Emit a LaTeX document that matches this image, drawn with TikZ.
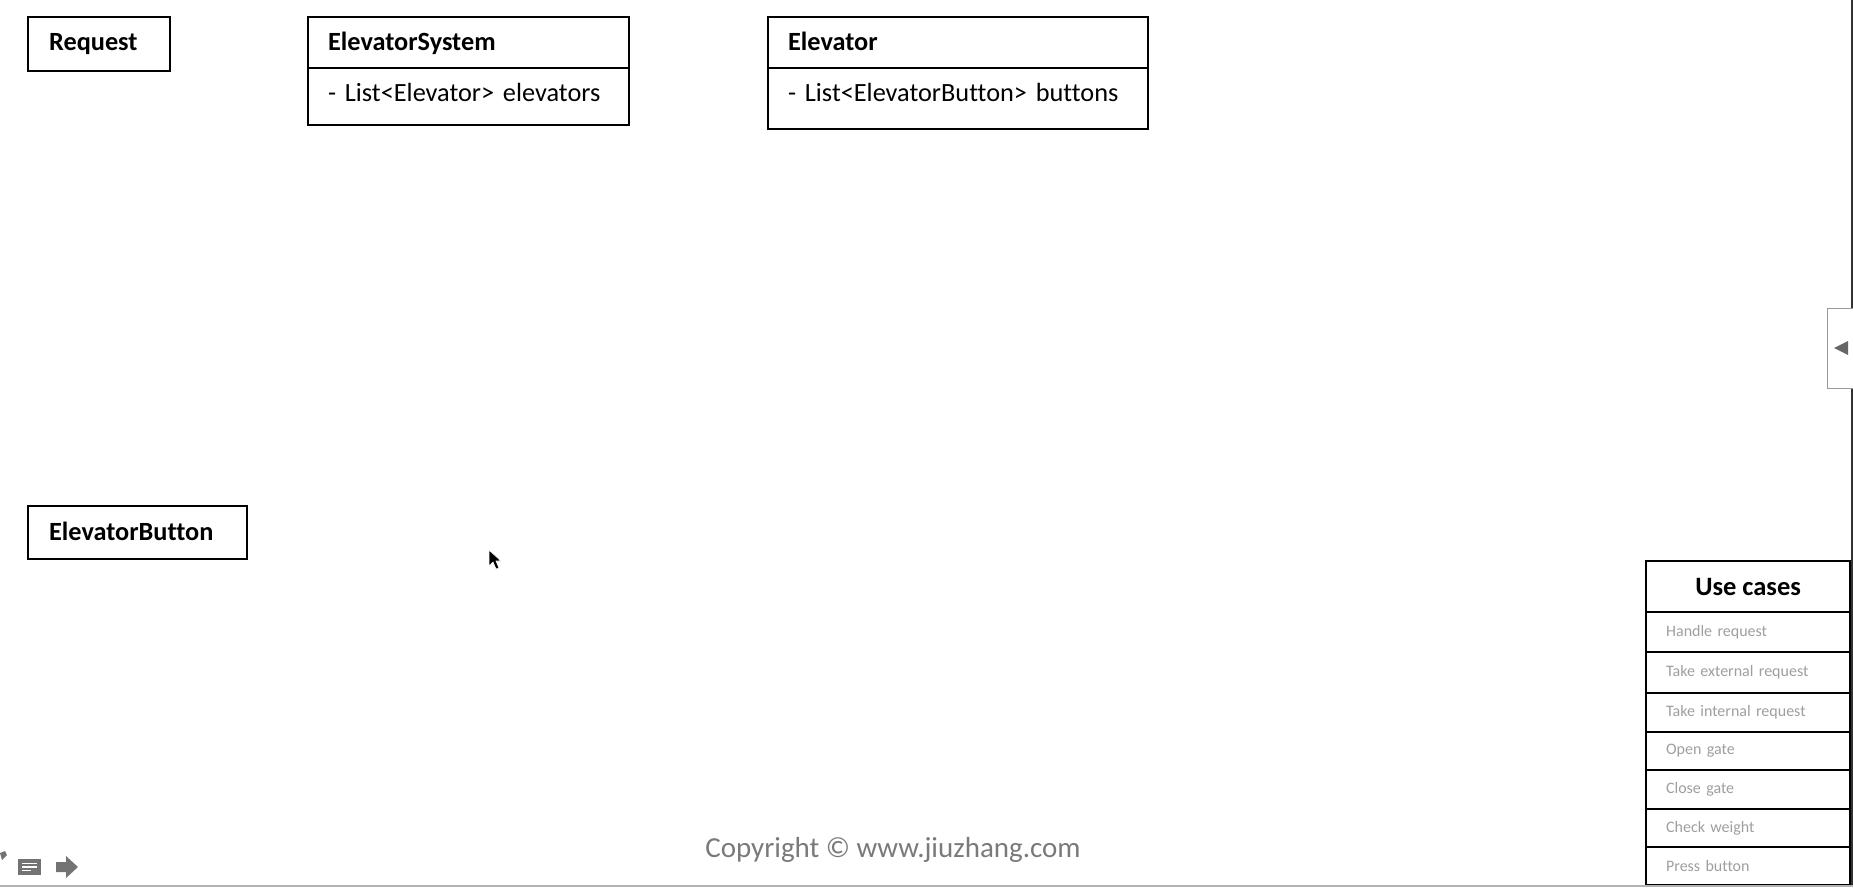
\documentclass[tikz,border=0pt]{standalone}
\usepackage{fontspec}
\setmainfont{Carlito}[Ligatures=NoCommon]
\begin{document}
\begin{tikzpicture}[x=1pt,y=-1pt,
  box/.style={draw=black,line width=2.2pt,anchor=north west,inner ysep=0pt,align=left,text height=19pt,font=\fontsize{26.3}{30}\selectfont},
  hdr/.style={box,font=\fontsize{26.3}{30}\selectfont\bfseries},
  ucrow/.style={draw=black,line width=2.2pt,anchor=north west,minimum width=204pt,inner xsep=20pt,text width=164pt,align=left,inner ysep=0pt,text=black!38,font=\fontsize{16}{18}\selectfont},
  ui/.style={fill=black!55,draw=none}]
\useasboundingbox (0,0) rectangle (1853,887);
% class boxes
\node[hdr,minimum width=142pt,minimum height=54pt,inner xsep=21pt,text width=100pt,text depth=6pt] (req) at (27,16) {Request};
\node[hdr,minimum width=321pt,minimum height=51pt,inner xsep=20pt,text width=281pt,text depth=3pt] (sysh) at (307,16) {ElevatorSystem};
\node[box,minimum width=321pt,minimum height=57pt,inner xsep=20pt,text width=281pt,text depth=10pt] (sysa) at (307,67) {- List<Elevator> elevators};
\node[hdr,minimum width=380pt,minimum height=51pt,inner xsep=20pt,text width=340pt,text depth=3pt] (elh) at (767,16) {Elevator};
\node[box,minimum width=380pt,minimum height=61pt,inner xsep=20pt,text width=340pt,text depth=14pt] (ela) at (767,67) {- List<ElevatorButton> buttons};
\node[hdr,minimum width=219pt,minimum height=53pt,inner xsep=21pt,text width=177pt,text depth=3pt] (btn) at (27,505) {ElevatorButton};
% use cases
\node[draw=black,line width=2.2pt,anchor=north west,minimum width=204pt,minimum height=51pt,inner sep=0pt,font=\fontsize{26.5}{30}\selectfont\bfseries] (uct) at (1645,560) {Use cases};
\node[ucrow,minimum height=40pt] (uc1) at (1645,611) {Handle request};
\node[ucrow,minimum height=41pt] (uc2) at (1645,651) {Take external request};
\node[ucrow,minimum height=39pt] (uc3) at (1645,692) {Take internal request};
\node[ucrow,minimum height=38pt] (uc4) at (1645,731) {Open gate};
\node[ucrow,minimum height=39pt] (uc5) at (1645,769) {Close gate};
\node[ucrow,minimum height=38pt] (uc6) at (1645,808) {Check weight};
\node[ucrow,minimum height=38pt] (uc7) at (1645,846) {Press button};
% copyright
\node[text=black!52,font=\fontsize{29}{33}\selectfont] (copy) at (893,850) {Copyright © www.jiuzhang.com};
% right edge and tab
\draw[black!80,line width=1.5pt] (1852,0) -- (1852,885);
\draw[black!40,line width=1pt,fill=white] (1853,308) -- (1827,308) -- (1827,388) -- (1853,388);
\fill[black!60] (1834,348) -- (1848,341) -- (1848,355) -- cycle;
% bottom line
\draw[black!30,line width=2pt] (0,886) -- (1853,886);
% player icons
\fill[ui] (0,853) -- (5,851) -- (7,855) -- (2,860) -- cycle;
\fill[ui] (18,859) rectangle (41,875);
\draw[white,line width=1.3pt] (22,863.5) -- (37,863.5) (22,867) -- (37,867) (22,870.5) -- (31,870.5);
\fill[ui] (56,862) -- (66,862) -- (66,856) -- (78,867) -- (66,878) -- (66,872) -- (56,872) -- cycle;
% cursor
\fill[black,draw=white,line width=0.6pt] (489,550) -- (489,566) -- (493,562) -- (496,569) -- (499,568) -- (496,561) -- (501,561) -- cycle;
\end{tikzpicture}
\end{document}
